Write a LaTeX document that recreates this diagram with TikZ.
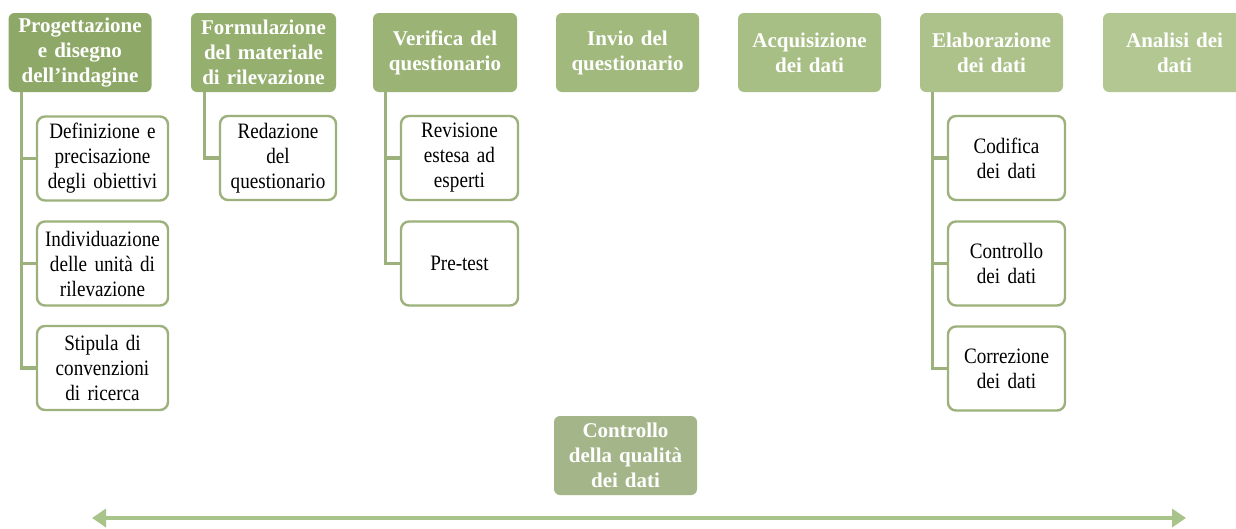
\documentclass[tikz,border=0pt]{standalone}
\usepackage{fontspec}
\setmainfont{Liberation Serif}
\newfontfamily\subfont[FakeStretch=0.87,WordSpace=0.8]{Liberation Serif}
\usetikzlibrary{arrows.meta}
\definecolor{hA}{HTML}{8EA967}
\definecolor{hB}{HTML}{95AF6F}
\definecolor{hC}{HTML}{9BB476}
\definecolor{hD}{HTML}{A1B97D}
\definecolor{hE}{HTML}{A7BE84}
\definecolor{hF}{HTML}{ADC28B}
\definecolor{hG}{HTML}{B3C792}
\definecolor{qual}{HTML}{A4B589}
\definecolor{edge}{HTML}{9DB17C}
\definecolor{arr}{HTML}{A9C48A}
\begin{document}
\begin{tikzpicture}[x=1pt,y=-1pt,
  hdr/.style={rounded corners=6pt, text=white, font=\fontsize{21}{25}\selectfont\bfseries,
    align=center, minimum width=143pt, minimum height=79pt, inner sep=1pt, text width=141pt},
  sub/.style={draw=edge, line width=2.4pt, fill=white, rounded corners=8pt,
    font=\subfont\fontsize{22}{25}\selectfont, align=center, minimum height=84pt, inner sep=1pt},
  conn/.style={draw=edge, line width=3.2pt}]
\clip (0,0) rectangle (1236,528);
\fill[white] (0,0) rectangle (1236,528);
% headers
\node[hdr, fill=hA, minimum width=142pt] (h1) at (80,52.5) {Progettazione\\e disegno\\dell’indagine};
\node[hdr, fill=hB, minimum width=145pt] (h2) at (263.5,52.5) {Formulazione\\del materiale\\di rilevazione};
\node[hdr, fill=hC, minimum width=144pt] (h3) at (445,52.5) {Verifica del\\questionario};
\node[hdr, fill=hD] (h4) at (627.5,52.5) {Invio del\\questionario};
\node[hdr, fill=hE] (h5) at (809.5,52.5) {Acquisizione\\dei dati};
\node[hdr, fill=hF] (h6) at (991.5,52.5) {Elaborazione\\dei dati};
\node[hdr, fill=hG] (h7) at (1174.5,52.5) {Analisi dei\\dati};
% children
\node[sub, minimum width=131pt, text width=129pt] (c1a) at (102.5,158.5) {Definizione e\\precisazione\\degli obiettivi};
\node[sub, minimum width=131pt, text width=129pt] (c1b) at (102.5,263.5) {Individuazione\\delle unità di\\rilevazione};
\node[sub, minimum width=131pt, text width=129pt] (c1c) at (102.5,368) {Stipula di\\convenzioni\\di ricerca};
\node[sub, minimum width=116pt, text width=114pt] (c2a) at (278,158) {Redazione\\del\\questionario};
\node[sub, minimum width=117pt, text width=115pt] (c3a) at (459.5,158) {Revisione\\estesa ad\\esperti};
\node[sub, minimum width=117pt, text width=115pt] (c3b) at (459.5,263.5) {Pre-test};
\node[sub, minimum width=117pt, text width=115pt] (c6a) at (1006.5,158) {Codifica\\dei dati};
\node[sub, minimum width=117pt, text width=115pt] (c6b) at (1006.5,263.5) {Controllo\\dei dati};
\node[sub, minimum width=117pt, text width=115pt] (c6c) at (1006.5,368.5) {Correzione\\dei dati};
% connectors
\draw[conn] ([xshift=13pt]h1.south west) |- (c1a.west);
\draw[conn] ([xshift=13pt]h1.south west) |- (c1b.west);
\draw[conn] ([xshift=13pt]h1.south west) |- (c1c.west);
\draw[conn] ([xshift=14pt]h2.south west) |- (c2a.west);
\draw[conn] ([xshift=13pt]h3.south west) |- (c3a.west);
\draw[conn] ([xshift=13pt]h3.south west) |- (c3b.west);
\draw[conn] ([xshift=13pt]h6.south west) |- (c6a.west);
\draw[conn] ([xshift=13pt]h6.south west) |- (c6b.west);
\draw[conn] ([xshift=13pt]h6.south west) |- (c6c.west);
% quality
\node[hdr, fill=qual] (q) at (625.5,455.5) {Controllo\\della qualità\\dei dati};
% arrow
\coordinate (aL) at (92,518);
\coordinate (aR) at (1186,518);
\draw[draw=arr, line width=3.5pt, {Triangle[length=14pt,width=18pt]}-{Triangle[length=14pt,width=18pt]}] (aL) -- (aR);
\end{tikzpicture}
\end{document}
